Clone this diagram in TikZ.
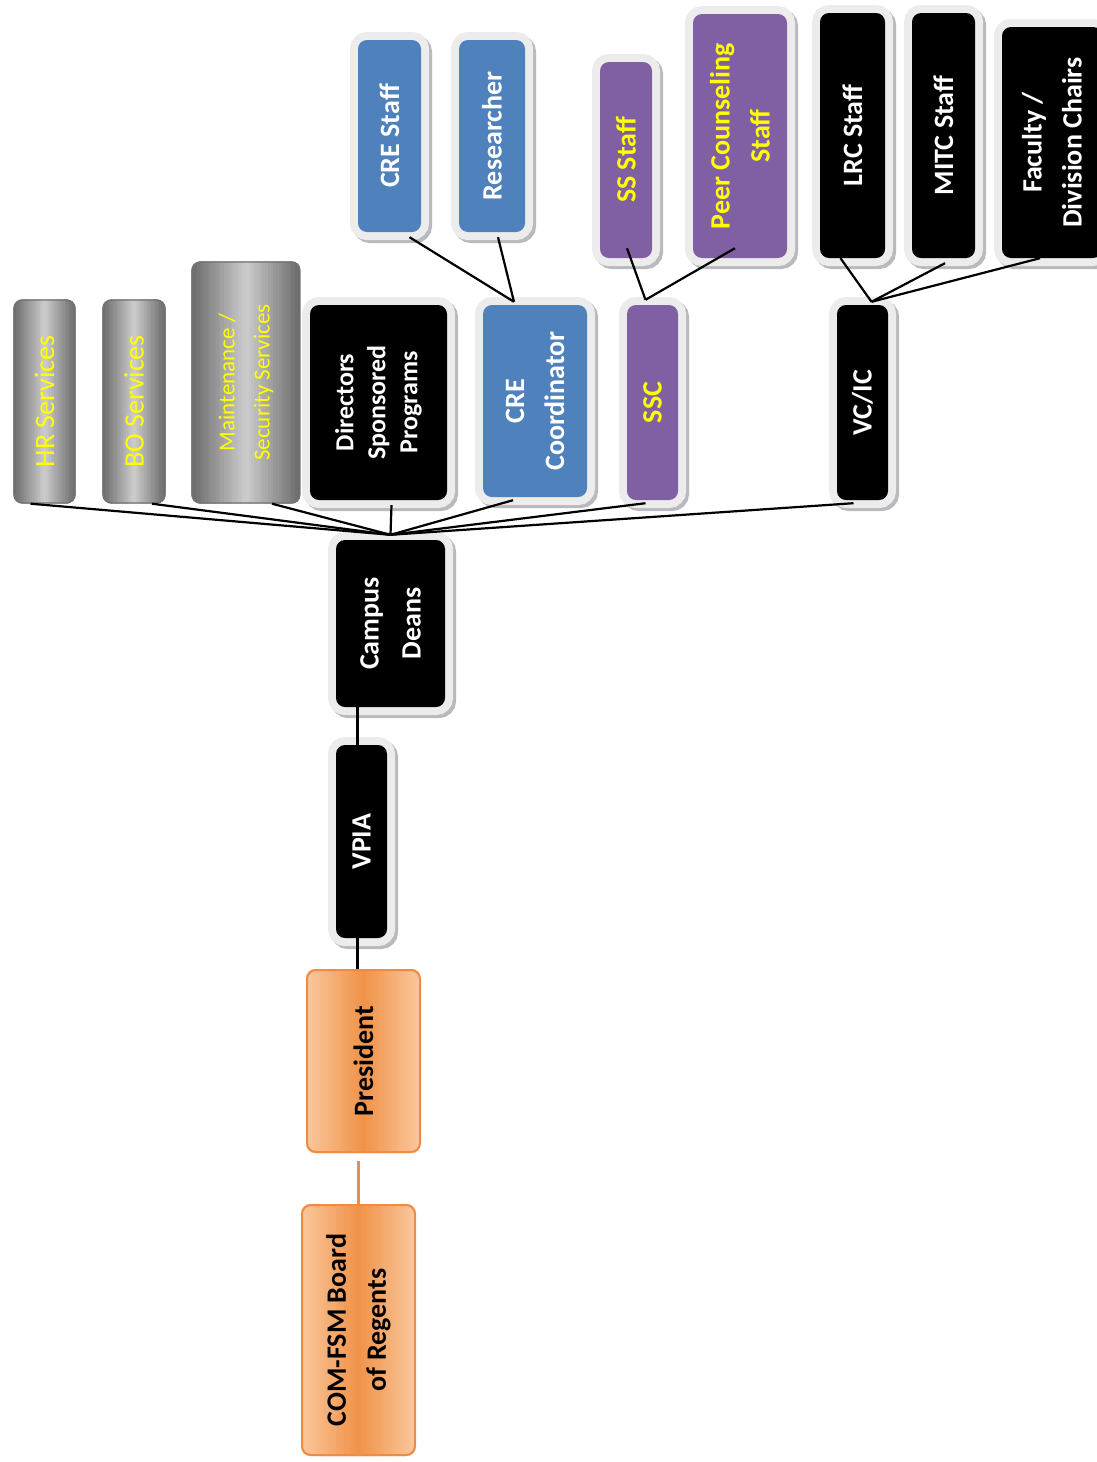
\documentclass[tikz,border=0pt]{standalone}
\usepackage{fontspec}
\setmainfont{Carlito}
\usepackage{tikz}
\usetikzlibrary{positioning, calc, backgrounds}

\definecolor{creblue}{RGB}{79,129,189}
\definecolor{sspurple}{RGB}{128,96,162}
\definecolor{framegray}{RGB}{236,236,236}
\definecolor{shadowgray}{RGB}{185,185,190}
\definecolor{presorange}{RGB}{238,140,70}
\definecolor{orangelight}{RGB}{250,200,158}
\definecolor{orangemid}{RGB}{240,146,72}
\definecolor{grayedge}{RGB}{105,105,105}
\definecolor{graymid}{RGB}{205,205,205}
\definecolor{boxyellow}{RGB}{255,255,0}

\newcommand{\unitfont}{\fontsize{28}{40}\selectfont\bfseries}

% fill a box with stripes: one colour at the sides, the other in the middle
\newcommand{\gradfill}[3]{%
  \begin{pgfonlayer}{background}
  \begin{scope}
    \clip [rounded corners=9pt] (#1.south west) rectangle (#1.north east);
    \foreach \k in {0,...,39} {
      \pgfmathsetmacro{\mix}{100*(1-abs((\k+0.5)/20-1))}
      \fill [#3!\mix!#2] ($(#1.south west)!\k/40!(#1.north east)+(0,-300)$) rectangle ($(#1.south west)!{(\k+1.3)/40}!(#1.north east)+(0,300)$);
    }
  \end{scope}
  \end{pgfonlayer}}

\tikzstyle{unit} = [rectangle, rotate=90, rounded corners=9pt, align=center, inner sep=2pt, font=\unitfont]
\tikzstyle{framed} = [preaction={draw=shadowgray, line width=16pt, transform canvas={shift={(3pt,-3pt)}}},
                      preaction={draw=framegray, line width=16pt}]
\tikzstyle{blackunit} = [unit, framed, fill=black, text=white]
\tikzstyle{blueunit} = [unit, framed, fill=creblue, text=white]
\tikzstyle{purpleunit} = [unit, framed, fill=sspurple, text=boxyellow]
\tikzstyle{grayunit} = [unit, draw=black!55, line width=1.4pt, text=boxyellow, font=\fontsize{28}{40}\selectfont]
\tikzstyle{orangeunit} = [unit, draw=presorange, line width=2pt, text=black]
\tikzstyle{link} = [line width=2.2pt, black]

\begin{document}
\begin{tikzpicture}[x=1pt, y=-1pt]
    \useasboundingbox (0,0) rectangle (1097,1462);

    % support services, left of the chart
    \node (hr) [grayunit, minimum width=203pt, minimum height=61pt] at (44.5,401.5) {HR Services};
    \node (bo) [grayunit, minimum width=203pt, minimum height=62pt] at (134,401.5) {BO Services};
    \node (maint) [grayunit, minimum width=241pt, minimum height=108pt, font=\fontsize{23}{35}\selectfont] at (246,382.5) {Maintenance /\\Security Services};

    % units under the campus deans
    \node (dir) [blackunit, minimum width=195pt, minimum height=137pt, font=\fontsize{26}{32}\selectfont\bfseries] at (378.5,402.5) {Directors\\Sponsored\\Programs};
    \node (coord) [blueunit, minimum width=192pt, minimum height=104pt] at (535,401) {CRE\\Coordinator};
    \node (ssc) [purpleunit, minimum width=195pt, minimum height=51pt] at (652.5,402.5) {SSC};
    \node (vcic) [blackunit, minimum width=195pt, minimum height=51pt] at (862.5,402.5) {VC/IC};

    % staff rows
    \node (crestaff) [blueunit, minimum width=192pt, minimum height=63pt] at (389.5,136) {CRE Staff};
    \node (res) [blueunit, minimum width=192pt, minimum height=66pt] at (492,136) {Researcher};
    \node (ssstaff) [purpleunit, minimum width=196pt, minimum height=52pt] at (626,160) {SS Staff};
    \node (peer) [purpleunit, minimum width=244pt, minimum height=94pt] at (740,136) {Peer Counseling\\Staff};
    \node (lrc) [blackunit, minimum width=245pt, minimum height=65pt] at (852.5,135.5) {LRC Staff};
    \node (mitc) [blackunit, minimum width=245pt, minimum height=63pt] at (943.5,135.5) {MITC Staff};
    \node (fac) [blackunit, minimum width=231pt, minimum height=100pt] at (1052,142.5) {Faculty /\\Division Chairs};

    % main line
    \node (deans) [blackunit, minimum width=167pt, minimum height=109pt] at (390.5,623.5) {Campus\\[2pt]Deans};
    \node (vpia) [blackunit, minimum width=193pt, minimum height=51pt] at (361.5,841.5) {VPIA};
    \node (pres) [orangeunit, minimum width=182pt, minimum height=113pt] at (363.5,1061) {President};
    \node (board) [orangeunit, minimum width=250pt, minimum height=113pt] at (358.5,1330) {COM-FSM Board\\of Regents};

    \gradfill{hr}{grayedge}{graymid}
    \gradfill{bo}{grayedge}{graymid}
    \gradfill{maint}{grayedge}{graymid}
    \gradfill{pres}{orangelight}{orangemid}
    \gradfill{board}{orangelight}{orangemid}

    % connectors
    \coordinate (hub) at ([yshift=5pt]deans.east);
    \draw [link] ([xshift=-14pt]hr.west) -- (hub);
    \draw [link] ([xshift=18pt]bo.west) -- (hub);
    \draw [link] ([xshift=26pt]maint.west) -- (hub);
    \draw [link] ([xshift=13pt, yshift=-5pt]dir.west) -- (hub);
    \draw [link] ([xshift=-22pt, yshift=-3pt]coord.west) -- (hub);
    \draw [link] ([xshift=-7pt, yshift=-3pt]ssc.west) -- (hub);
    \draw [link] ([xshift=-9pt, yshift=-3pt]vcic.west) -- (hub);

    \coordinate (crehub) at ([xshift=-21pt, yshift=3pt]coord.east);
    \draw [link] ([xshift=20pt, yshift=-5pt]crestaff.west) -- (crehub);
    \draw [link] ([xshift=6pt, yshift=-5pt]res.west) -- (crehub);

    \coordinate (sschub) at ([xshift=-7pt, yshift=5pt]ssc.east);
    \draw [link] ([xshift=1pt, yshift=10pt]ssstaff.west) -- (sschub);
    \draw [link] ([xshift=-5pt, yshift=10pt]peer.west) -- (sschub);

    \coordinate (vchub) at ([xshift=9pt, yshift=3pt]vcic.east);
    \draw [link] ([xshift=-12pt]lrc.west) -- (vchub);
    \draw [link] ([xshift=1.5pt, yshift=-5pt]mitc.west) -- (vchub);
    \draw [link] ([xshift=-12pt]fac.west) -- (vchub);

    \coordinate (v1) at ([xshift=-4pt]vpia.east);
    \draw [link] (v1) -- (v1 |- deans.west);
    \coordinate (v2) at ([xshift=-4pt]vpia.west);
    \draw [link] (v2) -- (v2 |- pres.east);
    \draw [link, presorange, shorten >=8pt] (board.east) -- (board.east |- pres.west);

\end{tikzpicture}
\end{document}
